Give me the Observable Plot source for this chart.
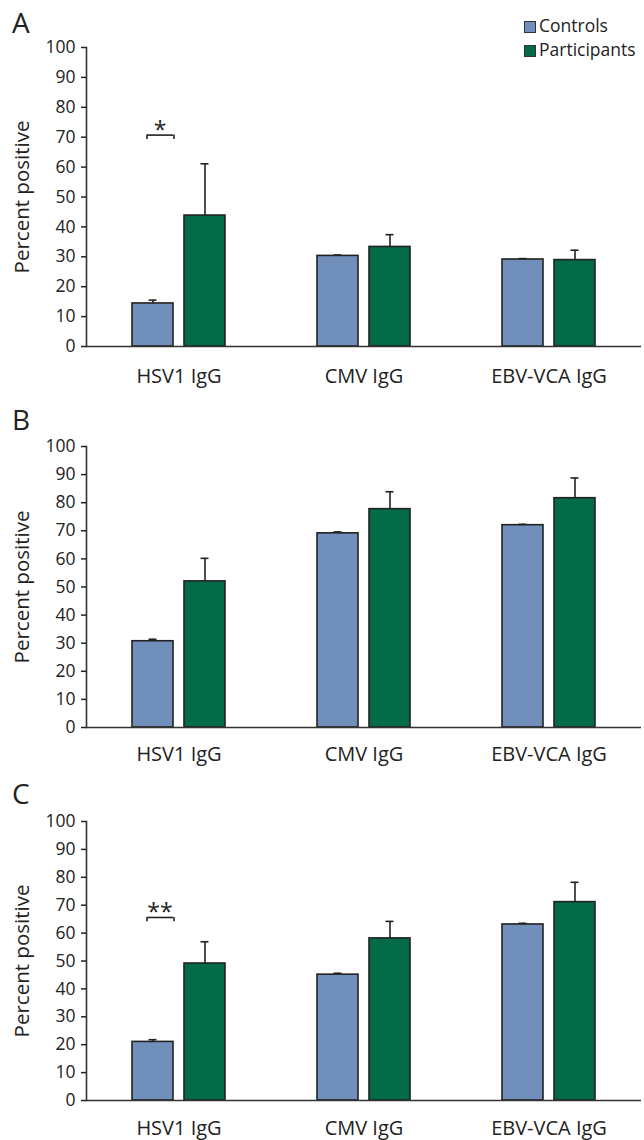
<!DOCTYPE html>
<html><head><meta charset="utf-8">
<script src="https://cdn.jsdelivr.net/npm/d3@7"></script>
<script src="https://cdn.jsdelivr.net/npm/@observablehq/plot@0.6"></script>
<style>
body{margin:0;background:#fff;font-family:"Open Sans",sans-serif;color:#222}
#wrap{position:relative;width:644px;height:1140px;overflow:hidden;background:#fff}
.panel{position:absolute;left:0}
.letter{position:absolute;left:12px;font-size:28px;line-height:1}
.ylab{position:absolute;font-size:20.5px;line-height:1;white-space:nowrap;transform:translate(-50%,-50%) rotate(-90deg)}
.legend{position:absolute;left:524px;top:13px;font-size:17.5px;line-height:24px;white-space:nowrap}
.sw{display:inline-block;width:10px;height:10px;border:1px solid #333;margin-right:3px;vertical-align:-1px}
</style>
</head><body>
<div id="wrap"></div>
<script>
const categories = ["HSV1 IgG", "CMV IgG", "EBV-VCA IgG"];
const groups = ["Controls", "Participants"];
const yTicks = [0, 10, 20, 30, 40, 50, 60, 70, 80, 90, 100];
const colors = ["#7090bb", "#046b49"];

// Panel A
const aControls = [14.4, 30.3, 29.1];
const aControlsUpper = [15.5, 30.6, 29.4];
const aParticipants = [43.8, 33.3, 28.9];
const aParticipantsUpper = [61.1, 37.4, 32.2];
const aSig = [{category: "HSV1 IgG", group: "Controls", label: "*", y: 70.7, yEnd: 69.2}];

// Panel B
const bControls = [30.7, 69.1, 72.0];
const bControlsUpper = [31.4, 69.6, 72.3];
const bParticipants = [52.0, 77.7, 81.6];
const bParticipantsUpper = [60.2, 83.9, 88.8];
const bSig = [];

// Panel C
const cControls = [21.0, 45.1, 63.1];
const cControlsUpper = [21.8, 45.6, 63.5];
const cParticipants = [49.1, 58.1, 71.1];
const cParticipantsUpper = [56.9, 64.2, 78.2];
const cSig = [{category: "HSV1 IgG", group: "Controls", label: "**", y: 65.6, yEnd: 64.1}];

const panels = [
  {letter: "A", top: 0, height: 395, mt: 47, mb: 49, pad: 22, letterTop: 8,
   c: aControls, cu: aControlsUpper, p: aParticipants, pu: aParticipantsUpper, sig: aSig},
  {letter: "B", top: 395, height: 370, mt: 51, mb: 38, pad: 19, letterTop: 405,
   c: bControls, cu: bControlsUpper, p: bParticipants, pu: bParticipantsUpper, sig: bSig},
  {letter: "C", top: 765, height: 375, mt: 56, mb: 40, pad: 20, letterTop: 779,
   c: cControls, cu: cControlsUpper, p: cParticipants, pu: cParticipantsUpper, sig: cSig}
];

const wrap = document.getElementById("wrap");
const ink = "#222";

for (const cfg of panels) {
  const rows = [];
  categories.forEach((cat, i) => {
    rows.push({category: cat, group: groups[0], value: cfg.c[i], upper: cfg.cu[i]});
    rows.push({category: cat, group: groups[1], value: cfg.p[i], upper: cfg.pu[i]});
  });
  const chart = Plot.plot({
    width: 644, height: cfg.height,
    marginLeft: 85, marginRight: 2, marginTop: cfg.mt, marginBottom: cfg.mb,
    style: {fontFamily: "Open Sans", color: ink, background: "transparent", overflow: "visible"},
    fx: {domain: categories, padding: 0, label: null},
    x: {domain: groups, paddingInner: 0.2075, paddingOuter: 0.855, axis: null},
    y: {domain: [0, 100], label: null},
    color: {domain: groups, range: colors},
    marks: [
      Plot.barY(rows, {fx: "category", x: "group", y: "value", fill: "group", stroke: ink, strokeWidth: 1.6}),
      Plot.ruleX(rows, {fx: "category", x: "group", y1: "value", y2: "upper", stroke: ink, strokeWidth: 1.6}),
      Plot.tickY(rows, {fx: "category", x: "group", y: "upper", stroke: ink, strokeWidth: 1.6, insetLeft: 16.5, insetRight: 16.5}),
      Plot.tickY(cfg.sig, {fx: "category", x: "group", y: "y", stroke: ink, strokeWidth: 1.6, insetLeft: 15}),
      Plot.ruleX(cfg.sig, {fx: "category", x: "group", y1: "yEnd", y2: "y", stroke: ink, strokeWidth: 1.6, dx: -6}),
      Plot.ruleX(cfg.sig, {fx: "category", x: "group", y1: "yEnd", y2: "y", stroke: ink, strokeWidth: 1.6, dx: 21}),
      Plot.text(cfg.sig, {fx: "category", x: "group", y: "y", text: "label", dx: 7, dy: 3, lineAnchor: "bottom", fontSize: 23, fill: ink}),
      Plot.ruleY([0], {stroke: "#333", strokeWidth: 1.6}),
      Plot.frame({anchor: "left", facetAnchor: "left", stroke: "#333", strokeWidth: 1.6}),
      Plot.axisY({ticks: yTicks, tickSize: 5, tickPadding: 6, fontSize: 17.5, label: null, strokeWidth: 1.5}),
      Plot.axisFx({anchor: "bottom", tickSize: 0, tickPadding: cfg.pad, fontSize: 20, label: null})
    ]
  });
  const holder = document.createElement("div");
  holder.className = "panel";
  holder.style.top = cfg.top + "px";
  holder.appendChild(chart);
  wrap.appendChild(holder);

  const L = document.createElement("div");
  L.className = "letter";
  L.style.top = cfg.letterTop + "px";
  L.textContent = cfg.letter;
  wrap.appendChild(L);

  const Y = document.createElement("div");
  Y.className = "ylab";
  Y.style.left = "21px";
  Y.style.top = (cfg.top + cfg.mt + (cfg.height - cfg.mt - cfg.mb) / 2) + "px";
  Y.textContent = "Percent positive";
  wrap.appendChild(Y);
}

const legend = document.createElement("div");
legend.className = "legend";
groups.forEach((g, i) => {
  const row = document.createElement("div");
  const sw = document.createElement("span");
  sw.className = "sw";
  sw.style.background = colors[i];
  row.appendChild(sw);
  row.appendChild(document.createTextNode(g));
  legend.appendChild(row);
});
wrap.appendChild(legend);
</script>
</body></html>
